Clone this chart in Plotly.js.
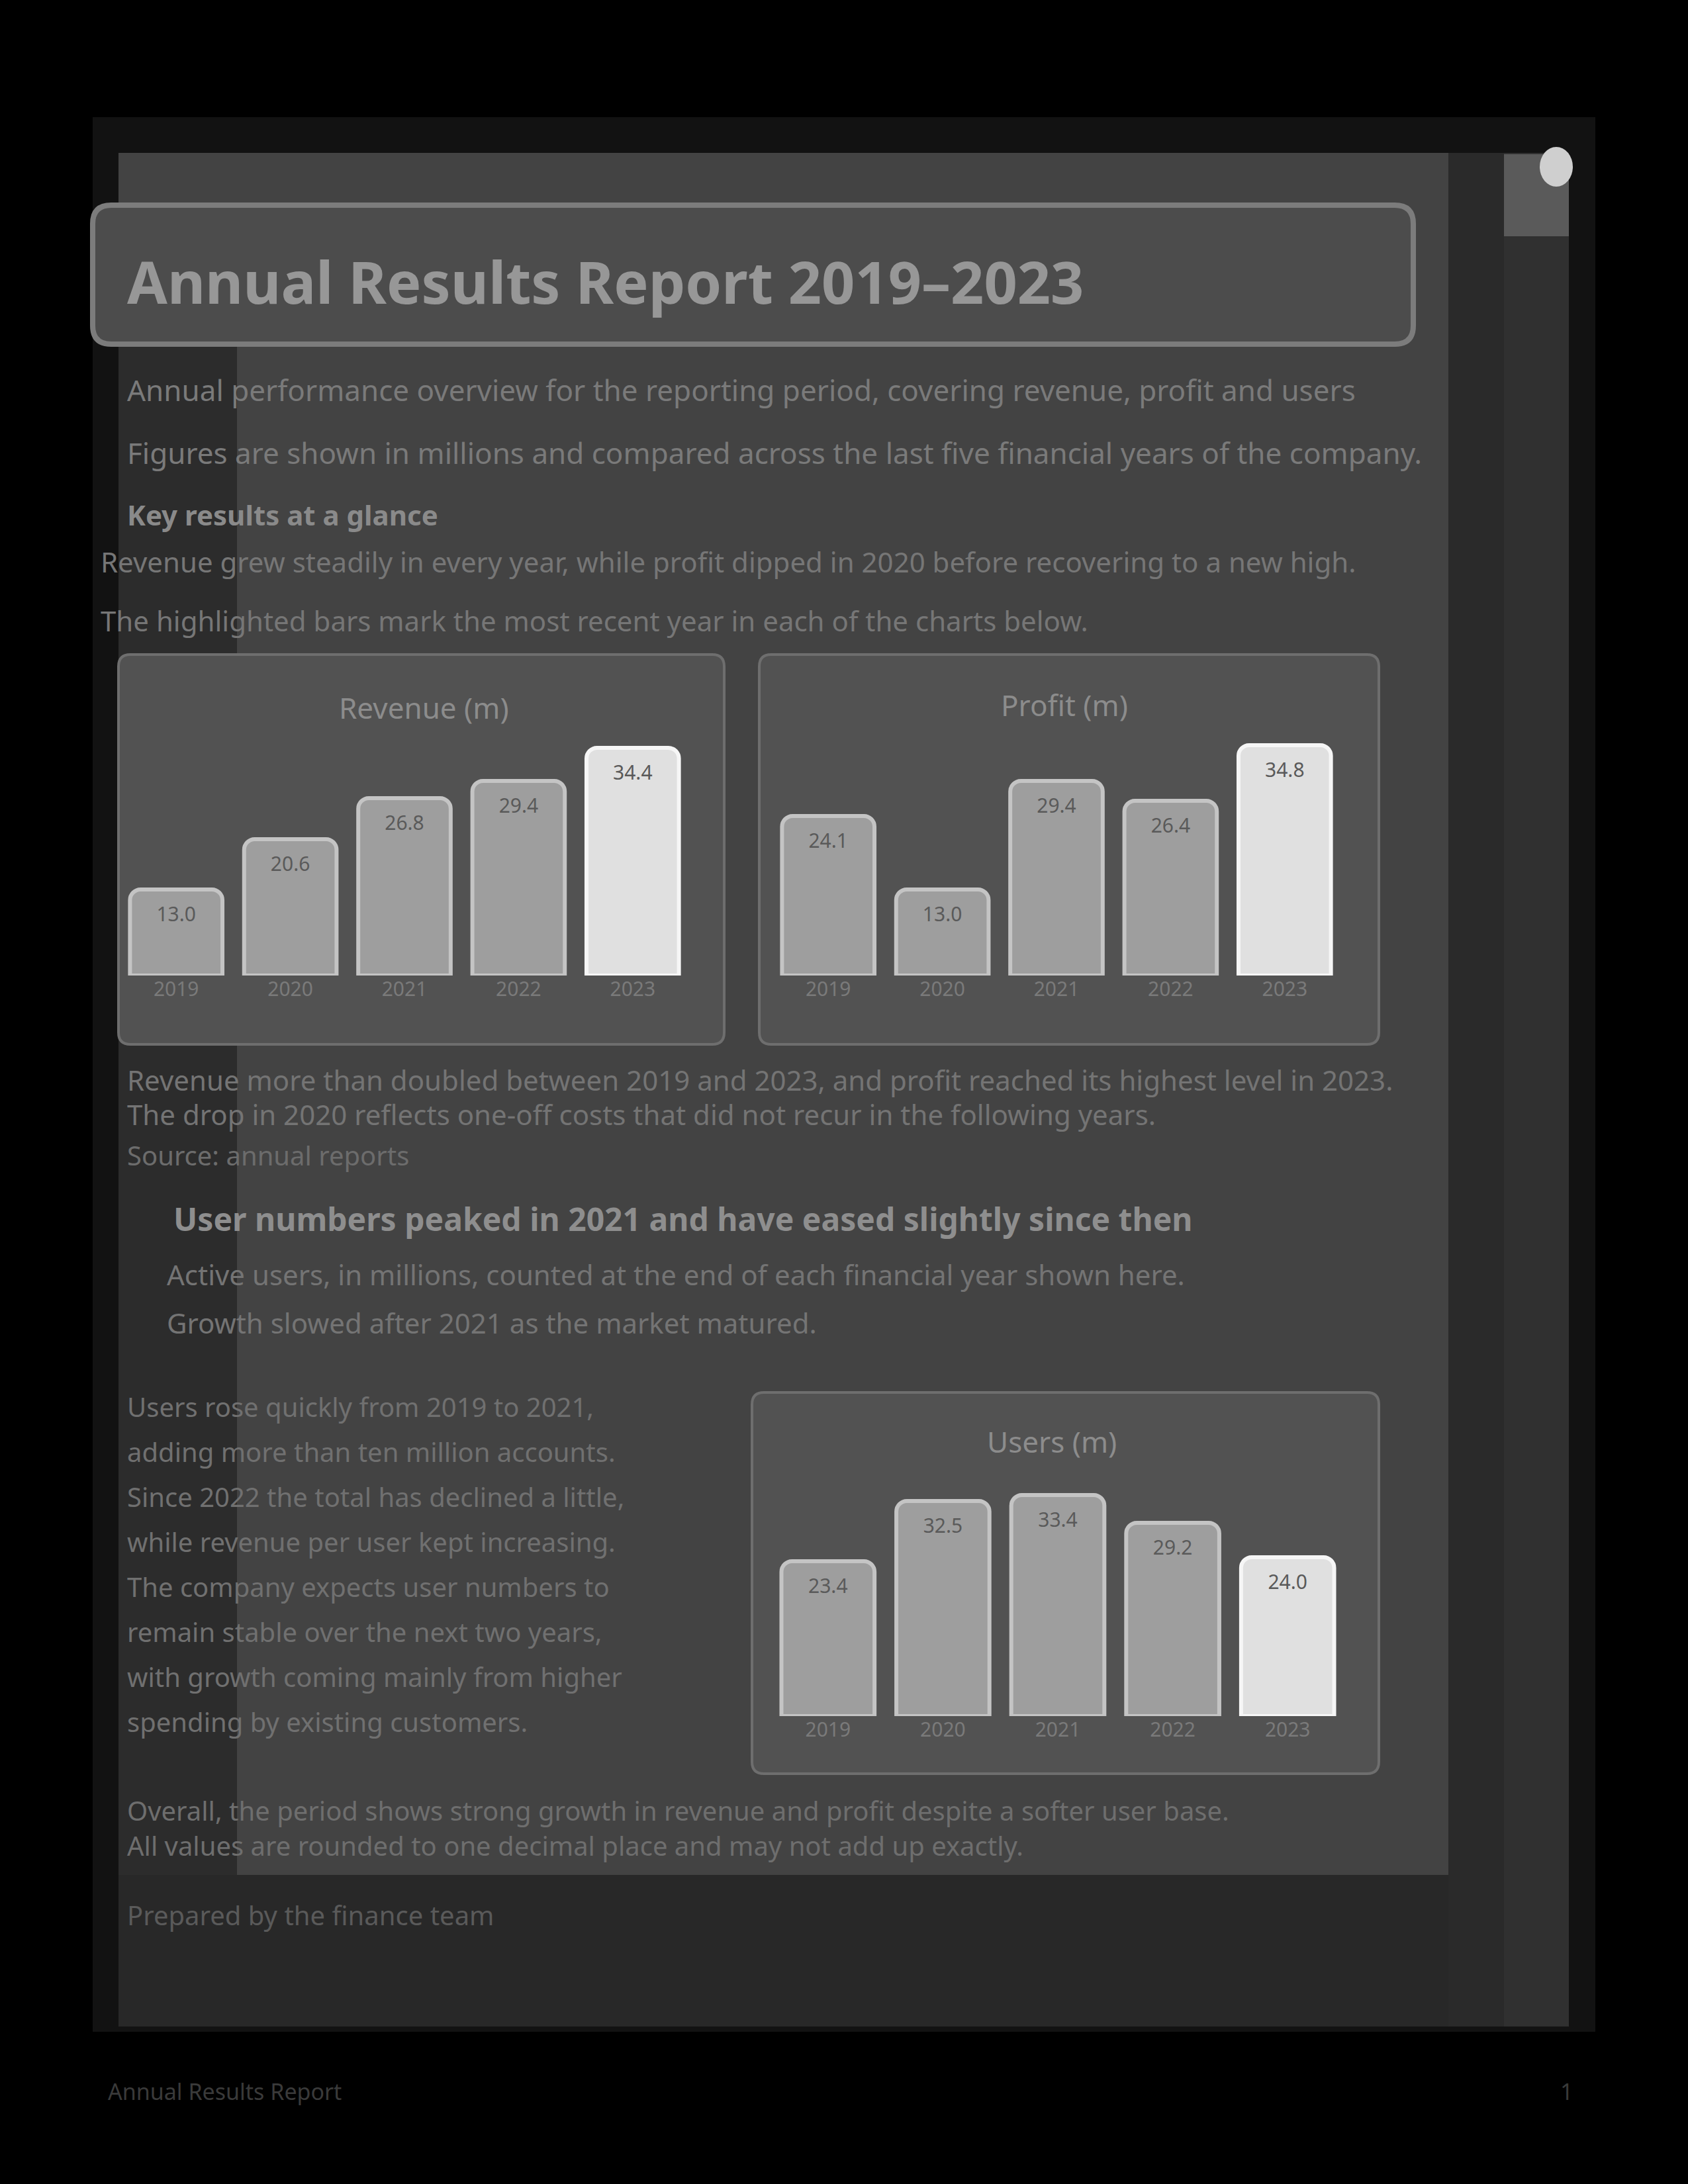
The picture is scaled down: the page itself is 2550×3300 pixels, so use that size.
<!DOCTYPE html>
<html>
<head>
<meta charset="utf-8">
<script src="https://cdn.plot.ly/plotly-3.0.1.min.js"></script>
<style>
html,body{margin:0;padding:0;background:#000;}
#page{width:2550px;height:3300px;}
</style>
</head>
<body>
<div id="page"></div>
<script>
// ---------- data ----------
const pageTitle = "Annual Results Report 2019–2023";
const years = ["2019", "2020", "2021", "2022", "2023"];
const revenueTitle = "Revenue (m)";
const revenue = [13.0, 20.6, 26.8, 29.4, 34.4];
const profitTitle = "Profit (m)";
const profit = [24.1, 13.0, 29.4, 26.4, 34.8];
const usersTitle = "Users (m)";
const users = [23.4, 32.5, 33.4, 29.2, 24.0];
const highlight = [false, false, false, false, true];

const introLines = [
  "Annual performance overview for the reporting period, covering revenue, profit and users",
  "Figures are shown in millions and compared across the last five financial years of the company."
];
const keyHeading = "Key results at a glance";
const keyLines = [
  "Revenue grew steadily in every year, while profit dipped in 2020 before recovering to a new high.",
  "The highlighted bars mark the most recent year in each of the charts below."
];
const midLines = [
  "Revenue more than doubled between 2019 and 2023, and profit reached its highest level in 2023.",
  "The drop in 2020 reflects one-off costs that did not recur in the following years."
];
const sourceLine = "Source: annual reports";
const usersHeading = "User numbers peaked in 2021 and have eased slightly since then";
const usersLines = [
  "Active users, in millions, counted at the end of each financial year shown here.",
  "Growth slowed after 2021 as the market matured."
];
const leftBlock = [
  "Users rose quickly from 2019 to 2021,",
  "adding more than ten million accounts.",
  "Since 2022 the total has declined a little,",
  "while revenue per user kept increasing.",
  "The company expects user numbers to",
  "remain stable over the next two years,",
  "with growth coming mainly from higher",
  "spending by existing customers."
];
const closingLines = [
  "Overall, the period shows strong growth in revenue and profit despite a softer user base.",
  "All values are rounded to one decimal place and may not add up exactly."
];
const closingShort = "Prepared by the finance team";
const footerLeft = "Annual Results Report";
const footerRight = "1";

// ---------- helpers (page pixel -> paper) ----------
const W = 2550, H = 3300;
const px = x => x / W;
const py = y => 1 - y / H;
const shapes = [];
const annotations = [];
function rect(x0, y0, x1, y1, fill, line, lw) {
  shapes.push({type: 'rect', xref: 'paper', yref: 'paper', layer: 'below',
    x0: px(x0), x1: px(x1), y0: py(y1), y1: py(y0),
    fillcolor: fill, line: {color: line || fill, width: lw || 0}});
}
function rrect(x0, y0, x1, y1, r, fill, line, lw) {
  const P = (x, y) => px(x) + ',' + py(y);
  const d = 'M' + P(x0 + r, y0) + ' L' + P(x1 - r, y0) + ' Q' + P(x1, y0) + ' ' + P(x1, y0 + r) +
    ' L' + P(x1, y1 - r) + ' Q' + P(x1, y1) + ' ' + P(x1 - r, y1) +
    ' L' + P(x0 + r, y1) + ' Q' + P(x0, y1) + ' ' + P(x0, y1 - r) +
    ' L' + P(x0, y0 + r) + ' Q' + P(x0, y0) + ' ' + P(x0 + r, y0) + ' Z';
  shapes.push({type: 'path', xref: 'paper', yref: 'paper', layer: 'below', path: d,
    fillcolor: fill, line: {color: line || fill, width: lw || 0}});
}
function text(x, y, s, size, color, bold, anchor) {
  annotations.push({xref: 'paper', yref: 'paper', x: px(x), y: py(y), text: bold ? '<b>' + s + '</b>' : s,
    showarrow: false, xanchor: anchor || 'left', yanchor: 'middle',
    font: {family: 'Noto Sans, DejaVu Sans, sans-serif', size: size, color: color}});
}

// ---------- page background ----------
rect(0, 0, W, H, '#000000');
rect(140, 177, 2410, 3070, '#121212');
rect(179, 231, 2188, 2833, '#434343');
rect(179, 2833, 2188, 3062, '#282828');
rect(179, 473, 358, 2833, '#2c2c2c');
rect(2188, 231, 2272, 3062, '#2a2a2a');
rect(2272, 231, 2370, 3062, '#303030');
rect(2272, 233, 2370, 357, '#5a5a5a');
shapes.push({type: 'circle', xref: 'paper', yref: 'paper', layer: 'below',
  x0: px(2326), x1: px(2376), y0: py(282), y1: py(222), fillcolor: '#cfcfcf', line: {width: 0}});

// title banner
rrect(140, 310, 2135, 520, 28, '#4c4c4c', '#7c7c7c', 8);
text(190, 425, pageTitle, 88, '#979797', true);

// intro text
introLines.forEach((s, i) => text(190, 589 + i * 95, s, 44, '#7a7a7a', false));
text(190, 778, keyHeading, 42, '#8a8a8a', true);
keyLines.forEach((s, i) => text(150, 848 + i * 90, s, 42, '#767676', false));

// chart cards
rrect(179, 989, 1094, 1578, 18, '#525252', '#6e6e6e', 4);
rrect(1147, 989, 2083, 1578, 18, '#525252', '#6e6e6e', 4);
rrect(1136, 2104, 2083, 2680, 18, '#525252', '#6e6e6e', 4);
text(640, 1069, revenueTitle, 44, '#8c8c8c', false, 'center');
text(1608, 1065, profitTitle, 44, '#8c8c8c', false, 'center');
text(1589, 2178, usersTitle, 44, '#8c8c8c', false, 'center');

// text between and after charts
midLines.forEach((s, i) => text(190, 1631 + i * 52, s, 42, '#747474', false));
text(190, 1746, sourceLine, 40, '#6c6c6c', false);
text(260, 1841, usersHeading, 48, '#8e8e8e', true);
usersLines.forEach((s, i) => text(250, 1925 + i * 74, s, 42, '#747474', false));
leftBlock.forEach((s, i) => text(190, 2125 + i * 68, s, 40, '#707070', false));
closingLines.forEach((s, i) => text(190, 2735 + i * 53, s, 40, '#6e6e6e', false));
text(190, 2893, closingShort, 40, '#5a5a5a', false);
text(161, 3160, footerLeft, 34, '#3a3a3a', false);
text(2366, 3160, footerRight, 34, '#3a3a3a', false, 'center');

// ---------- bars ----------
function barTrace(vals, xa, ya) {
  return {
    type: 'bar', x: years, y: vals, xaxis: xa, yaxis: ya,
    marker: {
      color: highlight.map(h => h ? '#e0e0e0' : '#9e9e9e'),
      line: {color: highlight.map(h => h ? '#f6f6f6' : '#c4c4c4'), width: 6},
      cornerradius: 16
    },
    text: vals.map(v => v.toFixed(1)),
    textposition: 'inside', insidetextanchor: 'end',
    textfont: {family: 'Noto Sans, sans-serif', size: 30, color: '#5a5a5a'},
    hoverinfo: 'skip', showlegend: false
  };
}
const data = [
  barTrace(revenue, 'x', 'y'),
  barTrace(profit, 'x2', 'y2'),
  barTrace(users, 'x3', 'y3')
];

function xax(d0, d1, anchor) {
  return {domain: [px(d0), px(d1)], anchor: anchor, showgrid: false, zeroline: false, showline: false,
    ticks: '', tickfont: {family: 'Noto Sans, sans-serif', size: 30, color: '#7a7a7a'}, fixedrange: true};
}
function yax(top, bottom, anchor) {
  return {domain: [py(bottom), py(top)], anchor: anchor, range: [0, 40], visible: false, fixedrange: true};
}

const layout = {
  width: W, height: H, autosize: false,
  margin: {l: 0, r: 0, t: 0, b: 0, pad: 0},
  paper_bgcolor: '#000000', plot_bgcolor: 'rgba(0,0,0,0)',
  bargap: 0.19,
  xaxis: xax(180, 1042, 'y'), yaxis: yax(1074, 1474, 'x'),
  xaxis2: xax(1165, 2027, 'y2'), yaxis2: yax(1074, 1474, 'x2'),
  xaxis3: xax(1164, 2032, 'y3'), yaxis3: yax(2193, 2593, 'x3'),
  shapes: shapes, annotations: annotations
};

Plotly.newPlot('page', data, layout, {staticPlot: true, displayModeBar: false});
</script>
</body>
</html>
